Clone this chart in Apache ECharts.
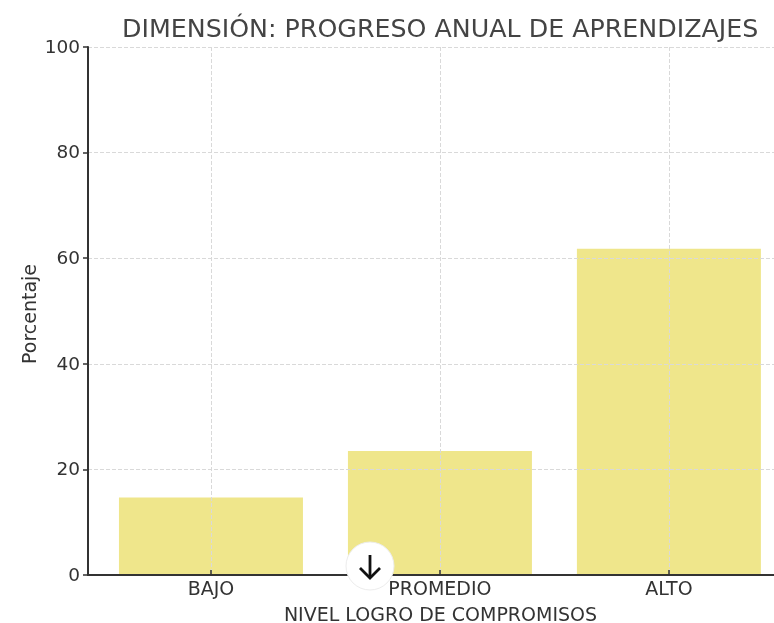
<!DOCTYPE html>
<html><head><meta charset="utf-8">
<style>html,body{margin:0;padding:0;background:#fff}#c{width:774px;height:623px}</style>
<script src="https://cdn.jsdelivr.net/npm/echarts@6/dist/echarts.min.js"></script>
</head><body><div id="c"></div>
<script>
const categories = ['BAJO','PROMEDIO','ALTO'];
const values = [14.7, 23.5, 61.8];
const title = 'DIMENSIÓN: PROGRESO ANUAL DE APRENDIZAJES';
const xName = 'NIVEL LOGRO DE COMPROMISOS';
const yName = 'Porcentaje';
const font = '"DejaVu Sans"';
const chart = echarts.init(document.getElementById('c'), null, {renderer:'canvas'});
const idx = categories.map((_,i)=>i);
const grid = {color:'#d9d9d9',type:[4,2],width:1};
chart.setOption({
  animation:false,
  backgroundColor:'#fff',
  title:{text:title,left:122,top:18,padding:0,textStyle:{fontFamily:font,fontWeight:'normal',fontSize:25.3,color:'#444'}},
  grid:{left:88,top:47,right:0,bottom:48,outerBoundsMode:'none'},
  xAxis:{type:'value',min:-0.537,max:2.459,z:3,
    name:xName,nameLocation:'middle',nameGap:32,nameTextStyle:{fontFamily:font,fontSize:19,color:'#333',padding:[0,0,0,19]},
    axisLine:{show:true,onZero:false,lineStyle:{color:'#333',width:2}},
    axisTick:{show:true,length:5,inside:true,customValues:idx,lineStyle:{color:'#333',width:1.5}},
    axisLabel:{fontFamily:font,fontSize:19,color:'#333',margin:6,customValues:idx,formatter:v=>categories[v]},
    splitLine:{show:true,lineStyle:grid}},
  yAxis:{type:'value',min:0,max:100,interval:20,z:3,
    name:yName,nameLocation:'middle',nameGap:47,nameMoveOverlap:false,nameTextStyle:{fontFamily:font,fontSize:19,color:'#333',padding:[0,6,0,0]},
    axisLine:{show:true,onZero:false,lineStyle:{color:'#333',width:2}},
    axisTick:{show:true,length:5,lineStyle:{color:'#333',width:1.5}},
    axisLabel:{fontFamily:font,fontSize:18.5,color:'#333',margin:8,verticalAlign:'top',lineHeight:2},
    splitLine:{show:true,lineStyle:grid}},
  series:[{type:'bar',barWidth:184,z:2,itemStyle:{color:'#EFE68B'},
    data:values.map((v,i)=>[i,v])}],
  graphic:[
    {type:'circle',z:100,shape:{cx:370,cy:566,r:24},style:{fill:'#fff',stroke:'#ececec',lineWidth:1}},
    {type:'polyline',z:101,shape:{points:[[370,555],[370,578]]},style:{stroke:'#111',lineWidth:2.8,fill:null}},
    {type:'polyline',z:101,shape:{points:[[360,568],[370,578],[380,568]]},style:{stroke:'#111',lineWidth:2.8,fill:null}}
  ]
});
</script></body></html>
